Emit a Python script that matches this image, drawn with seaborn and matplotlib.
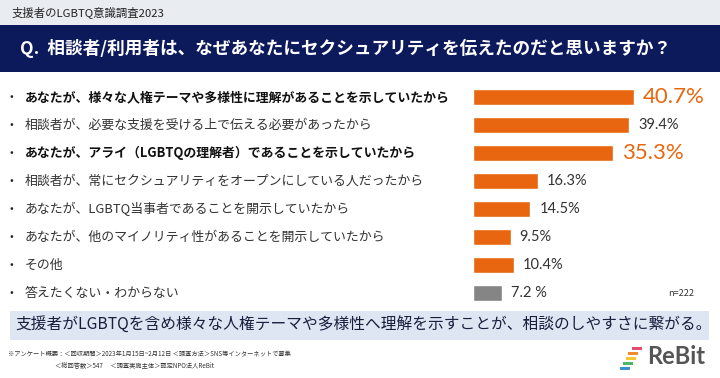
import matplotlib
matplotlib.use("Agg")
import matplotlib.pyplot as plt
import pandas as pd
import seaborn as sns
from matplotlib.patches import Rectangle
from matplotlib.transforms import blended_transform_factory

# survey data
reasons = [
    "あなたが、様々な人権テーマや多様性に理解があることを示していたから",
    "相談者が、必要な支援を受ける上で伝える必要があったから",
    "あなたが、アライ（LGBTQの理解者）であることを示していたから",
    "相談者が、常にセクシュアリティをオープンにしている人だったから",
    "あなたが、LGBTQ当事者であることを開示していたから",
    "あなたが、他のマイノリティ性があることを開示していたから",
    "その他",
    "答えたくない・わからない",
]
percents = [40.7, 39.4, 35.3, 16.3, 14.5, 9.5, 10.4, 7.2]
value_labels = ["40.7%", "39.4%", "35.3%", "16.3%", "14.5%", "9.5%", "10.4%", "7.2 %"]
highlighted = [True, False, True, False, False, False, False, False]
bar_colors = ["#e8660f"] * 7 + ["#858585"]

header = "支援者のLGBTQ意識調査2023"
question = "Q.  相談者/利用者は、なぜあなたにセクシュアリティを伝えたのだと思いますか？"
conclusion = "支援者がLGBTQを含め様々な人権テーマや多様性へ理解を示すことが、相談のしやすさに繋がる。"
note_lines = [
    "※アンケート概要：＜回収期間＞2023年1月15日~2月12日 ＜調査方法＞SNS等インターネットで募集",
    "＜総回答数＞547　 ＜調査実施主体＞認定NPO法人ReBit",
]
sample_size = "n=222"

ORANGE = "#e8660f"
NAVY = "#0c1a5b"
W, H = 720, 378
PX_PER_PCT = 3.96

sns.set_theme(style="white")
plt.rcParams["font.family"] = ["Noto Sans CJK JP", "DejaVu Sans"]

fig = plt.figure(figsize=(7.2, 3.78), dpi=100)
fig.patch.set_facecolor("white")

# bands
fig.patches.append(Rectangle((0, 1 - 25 / H), 1, 25 / H, transform=fig.transFigure,
                             facecolor="#e9ecf1", edgecolor="none", zorder=0))
fig.patches.append(Rectangle((0, 1 - 72 / H), 1, 47 / H, transform=fig.transFigure,
                             facecolor=NAVY, edgecolor="none", zorder=0))
fig.patches.append(Rectangle((10 / W, 1 - 340 / H), 699 / W, 29 / H, transform=fig.transFigure,
                             facecolor="#dfe6f3", edgecolor="none", zorder=0))

fig.text(12 / W, 1 - 12.5 / H, header, fontsize=8.2, color="#222222", va="center")
fig.text(20 / W, 1 - 48.5 / H, question, fontsize=12.7, color="white",
         fontweight="bold", va="center")
fig.text(364 / W, 1 - 325.5 / H, conclusion, fontsize=11.3, color="#1a1f3d",
         ha="center", va="center")
fig.text(8 / W, 1 - 354 / H, note_lines[0], fontsize=4.5, color="#333333", va="center")
fig.text(55 / W, 1 - 365 / H, note_lines[1], fontsize=4.5, color="#333333", va="center")

# bars
ax = fig.add_axes([0, 71 / H, 1, 224 / H])
df = pd.DataFrame({"reason": reasons, "percent": percents})
sns.barplot(data=df, y="reason", x="percent", hue="reason", palette=bar_colors,
            legend=False, width=0.6, orient="h", saturation=1, ax=ax)
ax.set_xlim(-473 / PX_PER_PCT, (W - 473) / PX_PER_PCT)
ax.set_ylim(len(reasons) - 0.5, -0.5)
ax.axis("off")

trans = blended_transform_factory(fig.transFigure, ax.transData)
for i, (reason, pct, lab, hi) in enumerate(zip(reasons, percents, value_labels, highlighted)):
    ax.text(10 / W, i, "•", transform=trans, va="center", fontsize=8,
            color="#222222")
    ax.text(25 / W, i, reason, transform=trans, va="center", fontsize=9.3,
            fontweight="bold" if hi else "normal",
            color="#111111" if hi else "#333333")
    ax.text(pct + 9 / PX_PER_PCT, i, lab, va="center", ha="left",
            fontsize=16 if hi else 10.5, color=ORANGE if hi else "#333333",
            family=["Lato", "DejaVu Sans"])

ax.text(668 / W, len(reasons) - 1, sample_size, transform=trans, va="center",
        fontsize=6.5, color="#333333")

# logo
stripes = [("#e94b6a", 632, 347), ("#f08a2c", 628, 352), ("#f4c62f", 626, 357),
           ("#4cb86a", 623, 362), ("#3a8fd4", 620, 367)]
for col, x0, y0 in stripes:
    fig.patches.append(Rectangle((x0 / W, 1 - (y0 + 2.5) / H), 10 / W, 3 / H,
                                 transform=fig.transFigure, facecolor=col,
                                 edgecolor="none"))
fig.text(647 / W, 1 - 357 / H, "ReBit", fontsize=17, color="#555555",
         fontweight="bold", va="center", family=["Lato", "DejaVu Sans"])

fig.savefig("out.png", dpi=100)
